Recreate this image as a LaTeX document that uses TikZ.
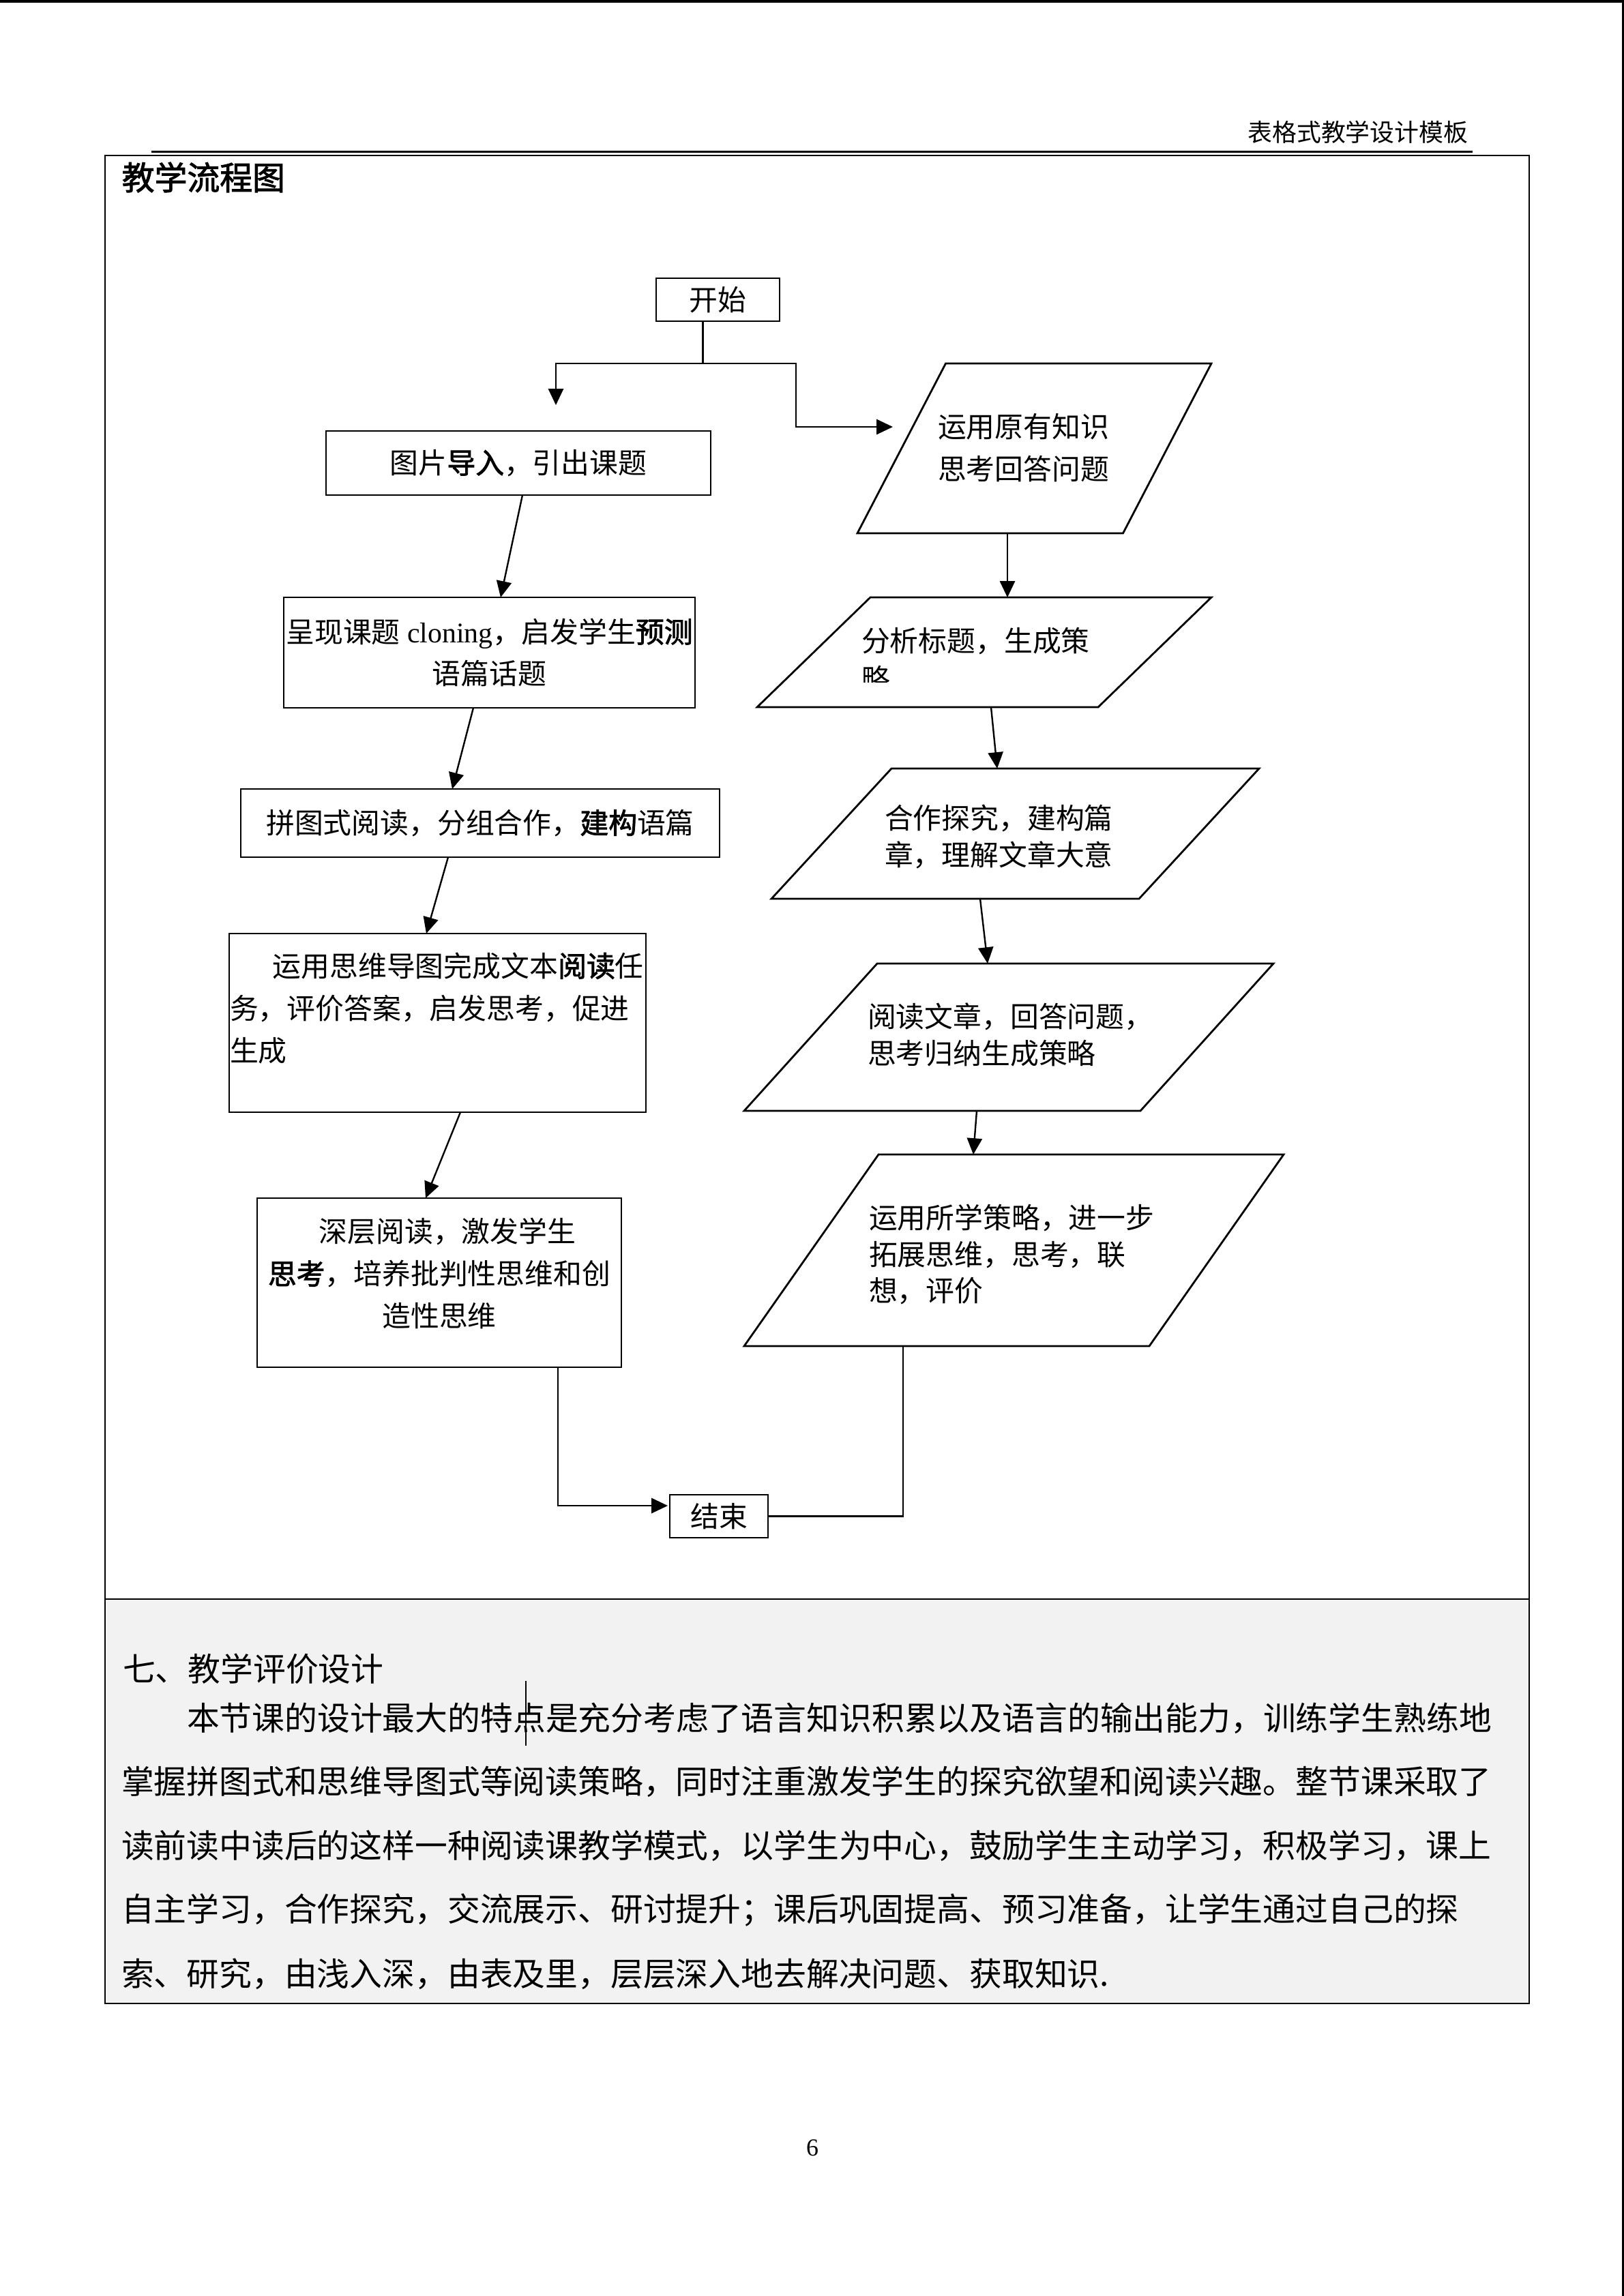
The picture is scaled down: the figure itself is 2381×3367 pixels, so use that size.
\documentclass[tikz,border=0pt]{standalone}
\usepackage{fontspec}
\setmainfont{Liberation Serif}
\newfontfamily\cjk{Noto Sans CJK SC}
\newfontfamily\cjkb{Noto Sans CJK SC}[FakeBold=2]
\usetikzlibrary{arrows.meta,calc}
\newcommand\pxu{0.088198mm}
\definecolor{panelgray}{RGB}{242,242,242}
\tikzset{
  box/.style={draw, line width=0.7pt, rectangle, inner sep=0pt, outer sep=0pt,
    font=\cjk\fontsize{10.5pt}{15.5pt}\selectfont, align=center},
  pbox/.style={rectangle, inner sep=0pt, outer sep=0pt},
  pline/.style={line width=0.7pt, line join=miter},
  conn/.style={line width=0.6pt},
  arr/.style={conn, -{Triangle[length=2.1mm,width=1.95mm]}},
  ftext/.style={inner sep=0pt, outer sep=0pt, align=left, anchor=west},
  ptext/.style={inner sep=0pt, outer sep=0pt, anchor=west, font=\cjk\fontsize{12pt}{14pt}\selectfont},
}
\newcommand\para[2]{%
  \draw[pline] ($(#1.north west)+(#2,0)$) -- (#1.north east) -- ($(#1.south east)+(-#2,0)$) -- (#1.south west) -- cycle;}
\begin{document}
\begin{tikzpicture}[x=\pxu, y=-\pxu]
\useasboundingbox (0,0) rectangle (2381,3367);
\fill[white] (0,0) rectangle (2381,3367);
\fill[black] (0,0) rectangle (2381,3.5);
\fill[black] (2378,0) rectangle (2381,3367);
% header
\node[anchor=east, inner sep=0pt, font=\cjk\fontsize{9pt}{11pt}\selectfont] (hdr) at (2153,194) {表格式教学设计模板};
\draw[line width=0.75pt] (222,222) -- (2159,222);
% table
\fill[panelgray] (154,2345) rectangle (2242,2938);
\draw[line width=0.5pt] (154,228) rectangle (2242,2938);
\draw[line width=0.5pt] (154,2345) -- (2242,2345);
\node[anchor=west, inner sep=0pt, font=\cjkb\fontsize{12pt}{14pt}\selectfont] (title) at (178,260) {教学流程图};

% left column boxes
\node[box, minimum width=181*\pxu, minimum height=63*\pxu] (start) at (1052.5,439.5) {开始};
\node[box, minimum width=564*\pxu, minimum height=94*\pxu] (b1) at (760,679) {图片{\cjkb 导入}，引出课题};
\node[box, minimum width=603*\pxu, minimum height=162*\pxu] (b2) at (717.5,957) {呈现课题{\rmfamily\ cloning}，启发学生{\cjkb 预测}\\语篇话题};
\node[box, minimum width=702*\pxu, minimum height=100*\pxu] (b3) at (704,1207) {拼图式阅读，分组合作，{\cjkb 建构}语篇};
\node[box, minimum width=611*\pxu, minimum height=262*\pxu] (b4) at (641.5,1500) {};
\node[ftext, font=\cjk\fontsize{10.5pt}{15.6pt}\selectfont] (t4) at (337,1478.5) {\hspace*{15.75pt}运用思维导图完成文本{\cjkb 阅读}任\\务，评价答案，启发思考，促进\\生成};
\node[box, minimum width=534*\pxu, minimum height=248*\pxu] (b5) at (644,1881) {};
\node[inner sep=0pt, outer sep=0pt, align=center, font=\cjk\fontsize{10.5pt}{15.6pt}\selectfont] (t5) at (644,1867.5) {\hspace*{6pt}深层阅读，激发学生\\{\cjkb 思考}，培养批判性思维和创\\造性思维};
\node[box, minimum width=144*\pxu, minimum height=63*\pxu] (end) at (1054,2223.5) {结束};

% right column parallelograms
\node[pbox, minimum width=519*\pxu, minimum height=249*\pxu] (p1) at (1516.5,657.5) {};
\para{p1}{129.5}
\node[ftext, font=\cjk\fontsize{10.5pt}{15.75pt}\selectfont] (t1) at (1375,656.5) {运用原有知识\\思考回答问题};

\node[pbox, minimum width=666*\pxu, minimum height=161*\pxu] (p2) at (1443,956.5) {};
\para{p2}{166}
\node[ftext, font=\cjk\fontsize{10.5pt}{13pt}\selectfont] (t2) at (1263,940) {分析标题，生成策};
\begin{scope}
\clip (1240,960) rectangle (1330,1000);
\node[ftext, font=\cjk\fontsize{10.5pt}{13pt}\selectfont] (t2b) at (1263,995) {略};
\end{scope}

\node[pbox, minimum width=715*\pxu, minimum height=191*\pxu] (p3) at (1488.5,1222.5) {};
\para{p3}{176}
\node[ftext, font=\cjk\fontsize{10.5pt}{13.5pt}\selectfont] (t3) at (1297,1227) {合作探究，建构篇\\章，理解文章大意};

\node[pbox, minimum width=776*\pxu, minimum height=216*\pxu] (p4) at (1479,1521) {};
\para{p4}{195}
\node[ftext, font=\cjk\fontsize{10.5pt}{13.75pt}\selectfont] (tp4) at (1272,1517.5) {阅读文章，回答问题，\\思考归纳生成策略};

\node[pbox, minimum width=791*\pxu, minimum height=281*\pxu] (p5) at (1486.5,1833.5) {};
\para{p5}{197}
\node[ftext, font=\cjk\fontsize{10.5pt}{13.4pt}\selectfont] (tp5) at (1274,1839.5) {运用所学策略，进一步\\拓展思维，思考，联\\想，评价};

% connectors
\coordinate (j) at ($(start.south)+(-22,62)$);
\coordinate (ltip) at (815,594);
\coordinate (rtip) at (1309,626);
\draw[conn] ($(start.south)+(-22,0)$) -- (j);
\draw[arr] (j) -| (ltip);
\draw[arr] (j) -| ($(rtip)+(-142,0)$) -- (rtip);
\draw[arr] ($(b1.south)+(6,0)$) -- ($(b2.north)+(16.5,0)$);
\draw[arr] ($(b2.south)+(-23.5,0)$) -- ($(b3.north)+(-41,0)$);
\draw[arr] ($(b3.south)+(-47,0)$) -- ($(b4.north)+(-16.5,0)$);
\draw[arr] ($(b4.south)+(33.5,0)$) -- ($(b5.north)+(-20,0)$);
\draw[arr] ($(b5.south)+(174,0)$) |- ($(end.west)+(-3,-15.5)$);
\draw[conn] ($(p5.south west)+(233,0)$) |- (end.east);
\draw[arr] ($(p1.south west)+(220,0)$) -- ($(p2.north west)+(367,0)$);
\draw[arr] ($(p2.south west)+(343,0)$) -- ($(p3.north west)+(331,0)$);
\draw[arr] ($(p3.south west)+(306,0)$) -- ($(p4.north west)+(357,0)$);
\draw[arr] ($(p4.south west)+(341,0)$) -- ($(p5.north west)+(336,0)$);

% evaluation section
\node[ptext] (evt) at (180,2447) {七、教学评价设计};
\node[ptext] (l1) at (274,2520) {本节课的设计最大的特点是充分考虑了语言知识积累以及语言的输出能力，训练学生熟练地};
\node[ptext] (l2) at (178,2613) {掌握拼图式和思维导图式等阅读策略，同时注重激发学生的探究欲望和阅读兴趣。整节课采取了};
\node[ptext] (l3) at (178,2707) {读前读中读后的这样一种阅读课教学模式，以学生为中心，鼓励学生主动学习，积极学习，课上};
\node[ptext] (l4) at (178,2801) {自主学习，合作探究，交流展示、研讨提升；课后巩固提高、预习准备，让学生通过自己的探};
\node[ptext] (l5) at (178,2895) {索、研究，由浅入深，由表及里，层层深入地去解决问题、获取知识.};
\draw[line width=0.4pt] (771,2465) -- (771,2560);

% page number
\node[inner sep=0pt, font=\fontsize{9pt}{11pt}\selectfont] (pg) at (1191,3150) {6};
\end{tikzpicture}
\end{document}
